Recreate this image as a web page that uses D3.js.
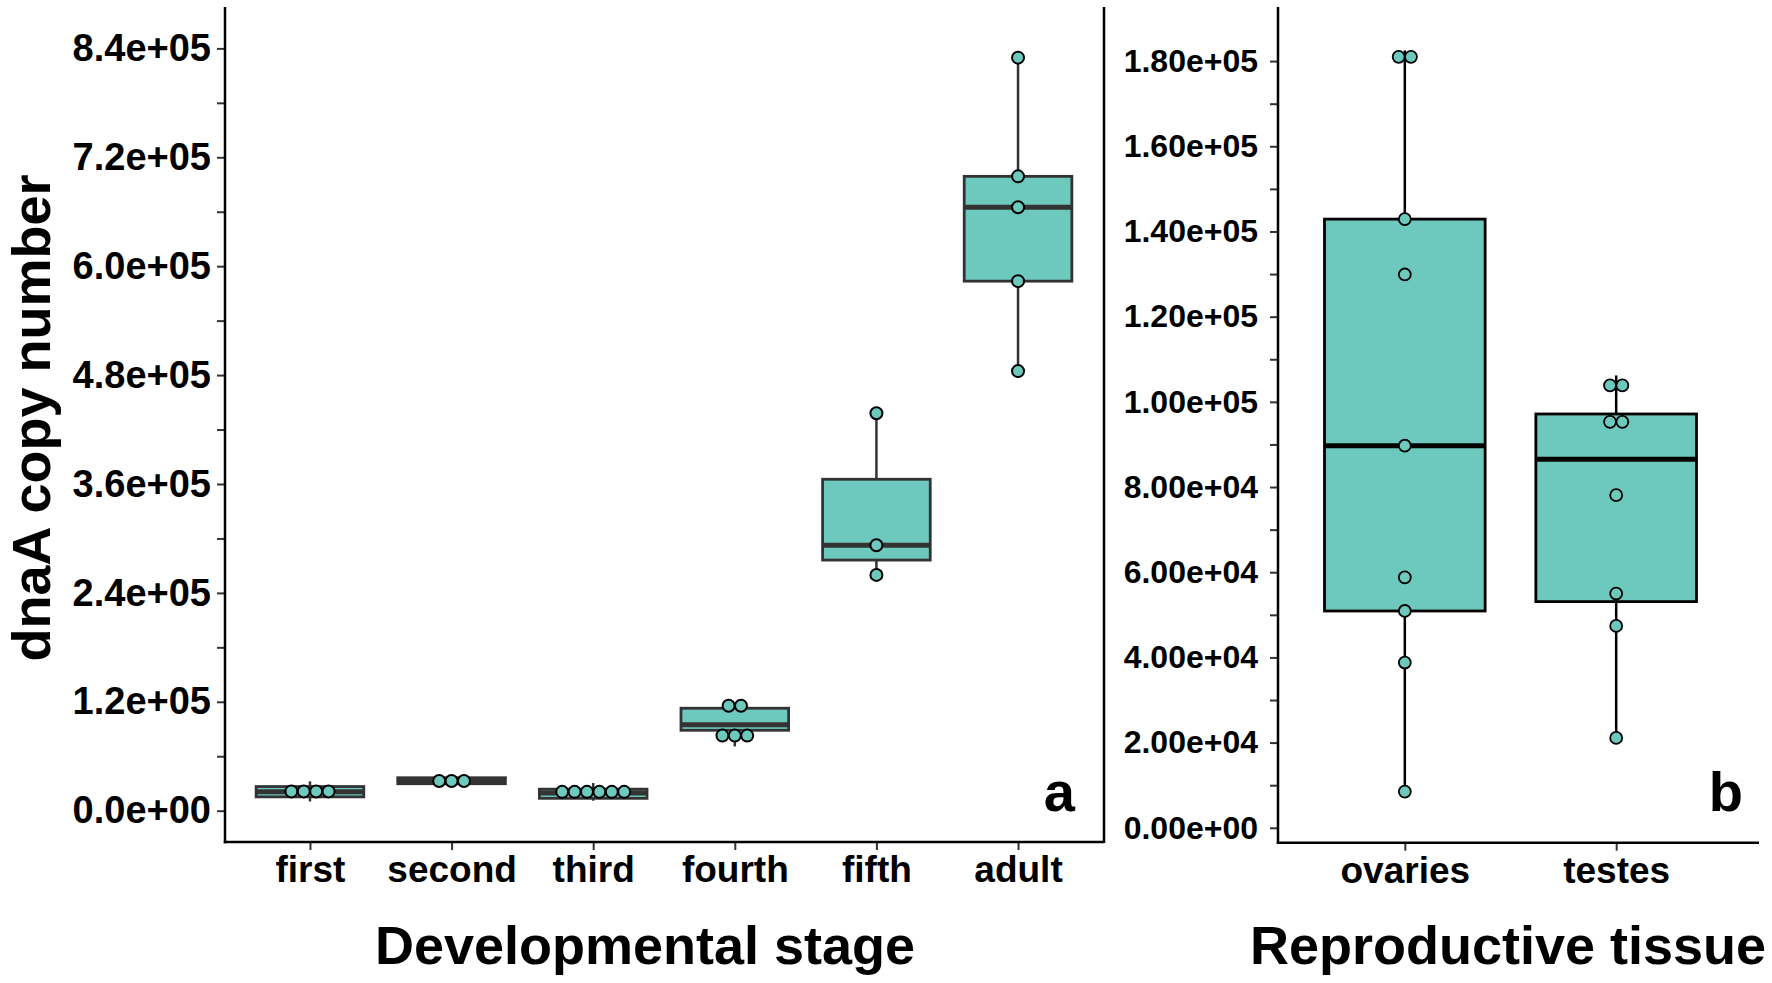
<!DOCTYPE html>
<html>
<head>
<meta charset="utf-8">
<script src="https://cdn.jsdelivr.net/npm/d3@7"></script>
<style>
  html, body { margin: 0; padding: 0; background: #fff; }
  svg { display: block; font-family: "Liberation Sans", Arial, sans-serif; font-weight: bold; }
</style>
</head>
<body>
<div id="chart"></div>
<script>
// dnaA copy number boxplots with centred dot stacks
// Panel a: developmental stage, panel b: reproductive tissue

const stages = ["first", "second", "third", "fourth", "fifth", "adult"];
const firstVals  = [10200, 16900, 24700, 32300];
const secondVals = [26100, 33300, 39300];
const thirdVals  = [11000, 12500, 17000, 22000, 24300, 30500];
const fourthVals = [70800, 88600, 94700, 112900, 118300];
const fifthVals  = [259800, 292500, 437900];
const adultVals  = [484400, 583500, 665000, 699000, 829800];

const tissues = ["ovaries", "testes"];
const ovariesVals = [8500, 38800, 50900, 58800, 89700, 129900, 142900, 179500, 182500];
const testesVals  = [21100, 47400, 55000, 78100, 94900, 95700, 101500, 106200];

const stageTickValues = [0, 60000, 120000, 180000, 240000, 300000, 360000, 420000, 480000, 540000, 600000, 660000, 720000, 780000, 840000];
const stageTickLabels = ["0.0e+00", "", "1.2e+05", "", "2.4e+05", "", "3.6e+05", "", "4.8e+05", "", "6.0e+05", "", "7.2e+05", "", "8.4e+05"];
const tissueTickValues = d3.range(0, 190000, 10000);
const tissueTickLabels = ["0.00e+00", "", "2.00e+04", "", "4.00e+04", "", "6.00e+04", "", "8.00e+04", "",
  "1.00e+05", "", "1.20e+05", "", "1.40e+05", "", "1.60e+05", "", "1.80e+05"];

const FILL = "#6dc8bd";
const W = 1772, H = 983;

const svg = d3.select("#chart").append("svg")
  .attr("width", W)
  .attr("height", H);

svg.append("rect").attr("width", W).attr("height", H).attr("fill", "#fff");

function boxStats(vals) {
  const s = vals.slice().sort(d3.ascending);
  const q1 = d3.quantile(s, 0.25), med = d3.quantile(s, 0.5), q3 = d3.quantile(s, 0.75);
  const iqr = q3 - q1;
  const lo = d3.min(s.filter(v => v >= q1 - 1.5 * iqr));
  const hi = d3.max(s.filter(v => v <= q3 + 1.5 * iqr));
  return { q1, med, q3, lo, hi };
}

// ggplot-style dotdensity binning
function dotBins(vals, bw) {
  const s = vals.slice().sort(d3.ascending);
  const bins = [];
  let i = 0;
  while (i < s.length) {
    let j = i;
    while (j + 1 < s.length && s[j + 1] - s[i] < bw) j++;
    bins.push({ center: (s[i] + s[j]) / 2, count: j - i + 1 });
    i = j + 1;
  }
  return bins;
}

function drawPanel(cfg) {
  const g = svg.append("g");
  const x = d3.scalePoint().domain(cfg.cats).range(cfg.xRange).padding(0.6);
  const y = d3.scaleLinear().domain(cfg.yDomain).range(cfg.yRange);
  const step = x.step();
  const boxW = step * 0.76;

  // binwidth = range / 30, dots drawn at half a binwidth
  const all = cfg.groups.flat();
  const bw = (d3.max(all) - d3.min(all)) / 30;
  const dotD = Math.abs(y(0) - y(bw * 0.5));

  cfg.groups.forEach((vals, i) => {
    const cx = x(cfg.cats[i]);
    const st = boxStats(vals);
    const bg = g.append("g");
    bg.append("line")
      .attr("x1", cx).attr("x2", cx)
      .attr("y1", y(st.hi)).attr("y2", y(st.q3))
      .attr("stroke", cfg.lineColor).attr("stroke-width", 2.5);
    bg.append("line")
      .attr("x1", cx).attr("x2", cx)
      .attr("y1", y(st.q1)).attr("y2", y(st.lo))
      .attr("stroke", cfg.lineColor).attr("stroke-width", 2.5);
    bg.append("rect")
      .attr("x", cx - boxW / 2).attr("width", boxW)
      .attr("y", y(st.q3)).attr("height", y(st.q1) - y(st.q3))
      .attr("fill", FILL)
      .attr("stroke", cfg.lineColor).attr("stroke-width", 2.8);
    bg.append("line")
      .attr("x1", cx - boxW / 2).attr("x2", cx + boxW / 2)
      .attr("y1", y(st.med)).attr("y2", y(st.med))
      .attr("stroke", cfg.lineColor).attr("stroke-width", 5);

    const dots = [];
    dotBins(vals, bw).forEach(b => {
      for (let k = 0; k < b.count; k++) {
        dots.push({ x: cx + (k - (b.count - 1) / 2) * dotD, v: b.center });
      }
    });
    bg.selectAll("circle").data(dots).enter().append("circle")
      .attr("cx", d => d.x)
      .attr("cy", d => y(d.v))
      .attr("r", dotD / 2 - 0.2)
      .attr("fill", FILL)
      .attr("stroke", "#000")
      .attr("stroke-width", cfg.dotStroke);
  });

  // y axis
  const yAxis = d3.axisLeft(y)
    .tickValues(cfg.tickValues)
    .tickFormat((d, i) => cfg.tickLabels[i])
    .tickSize(8)
    .tickPadding(cfg.yTickPad);
  const ya = g.append("g")
    .attr("transform", `translate(${cfg.xRange[0]},0)`)
    .call(yAxis);
  ya.select(".domain").remove();
  ya.selectAll(".tick line").attr("stroke", "#333").attr("stroke-width", 2);
  ya.selectAll(".tick text")
    .attr("fill", "#000")
    .style("font-size", cfg.yTickFont + "px")
    .style("font-weight", "bold");

  // x axis
  const xAxis = d3.axisBottom(x).tickSize(8).tickPadding(6);
  const xa = g.append("g")
    .attr("transform", `translate(0,${cfg.yRange[0]})`)
    .call(xAxis);
  xa.select(".domain").remove();
  xa.selectAll(".tick line").attr("stroke", "#333").attr("stroke-width", 2);
  xa.selectAll(".tick text")
    .attr("fill", "#000")
    .attr("dy", "0.71em")
    .style("font-size", "37px")
    .style("font-weight", "bold");

  // axis lines
  g.append("line")
    .attr("x1", cfg.xRange[0]).attr("x2", cfg.xRange[0])
    .attr("y1", cfg.yRange[1]).attr("y2", cfg.yRange[0] + 1.2)
    .attr("stroke", "#000").attr("stroke-width", 2.5);
  g.append("line")
    .attr("x1", cfg.xRange[0] - 1.2).attr("x2", cfg.xLineEnd)
    .attr("y1", cfg.yRange[0]).attr("y2", cfg.yRange[0])
    .attr("stroke", "#000").attr("stroke-width", 2.5);

  // panel letter
  g.append("text")
    .attr("x", cfg.letterX).attr("y", 811)
    .attr("text-anchor", "end")
    .style("font-size", "56px")
    .text(cfg.letter);

  // x title
  g.append("text")
    .attr("x", cfg.titleX).attr("y", 964)
    .attr("text-anchor", "middle")
    .style("font-size", "54px")
    .text(cfg.xTitle);

  return { x, y };
}

drawPanel({
  cats: stages,
  groups: [firstVals, secondVals, thirdVals, fourthVals, fifthVals, adultVals],
  xRange: [225, 1103],
  xLineEnd: 1104,
  yDomain: [-34500, 885600],
  yRange: [842, 7],
  tickValues: stageTickValues,
  tickLabels: stageTickLabels,
  yTickFont: 38,
  yTickPad: 6,
  lineColor: "#333333",
  dotStroke: 2,
  letter: "a",
  letterX: 1075,
  xTitle: "Developmental stage",
  titleX: 645
});

// right frame line of panel a
svg.append("line")
  .attr("x1", 1104).attr("x2", 1104)
  .attr("y1", 7).attr("y2", 843)
  .attr("stroke", "#000").attr("stroke-width", 2.5);

drawPanel({
  cats: tissues,
  groups: [ovariesVals, testesVals],
  xRange: [1278, 1743],
  xLineEnd: 1759,
  yDomain: [-3500, 192700],
  yRange: [842.7, 7],
  tickValues: tissueTickValues,
  tickLabels: tissueTickLabels,
  yTickFont: 32,
  yTickPad: 12,
  lineColor: "#000000",
  dotStroke: 1.8,
  letter: "b",
  letterX: 1743,
  xTitle: "Reproductive tissue",
  titleX: 1508
});

// y title
svg.append("text")
  .attr("transform", "translate(50,418) rotate(-90)")
  .attr("text-anchor", "middle")
  .style("font-size", "54px")
  .text("dnaA copy number");
</script>
</body>
</html>
